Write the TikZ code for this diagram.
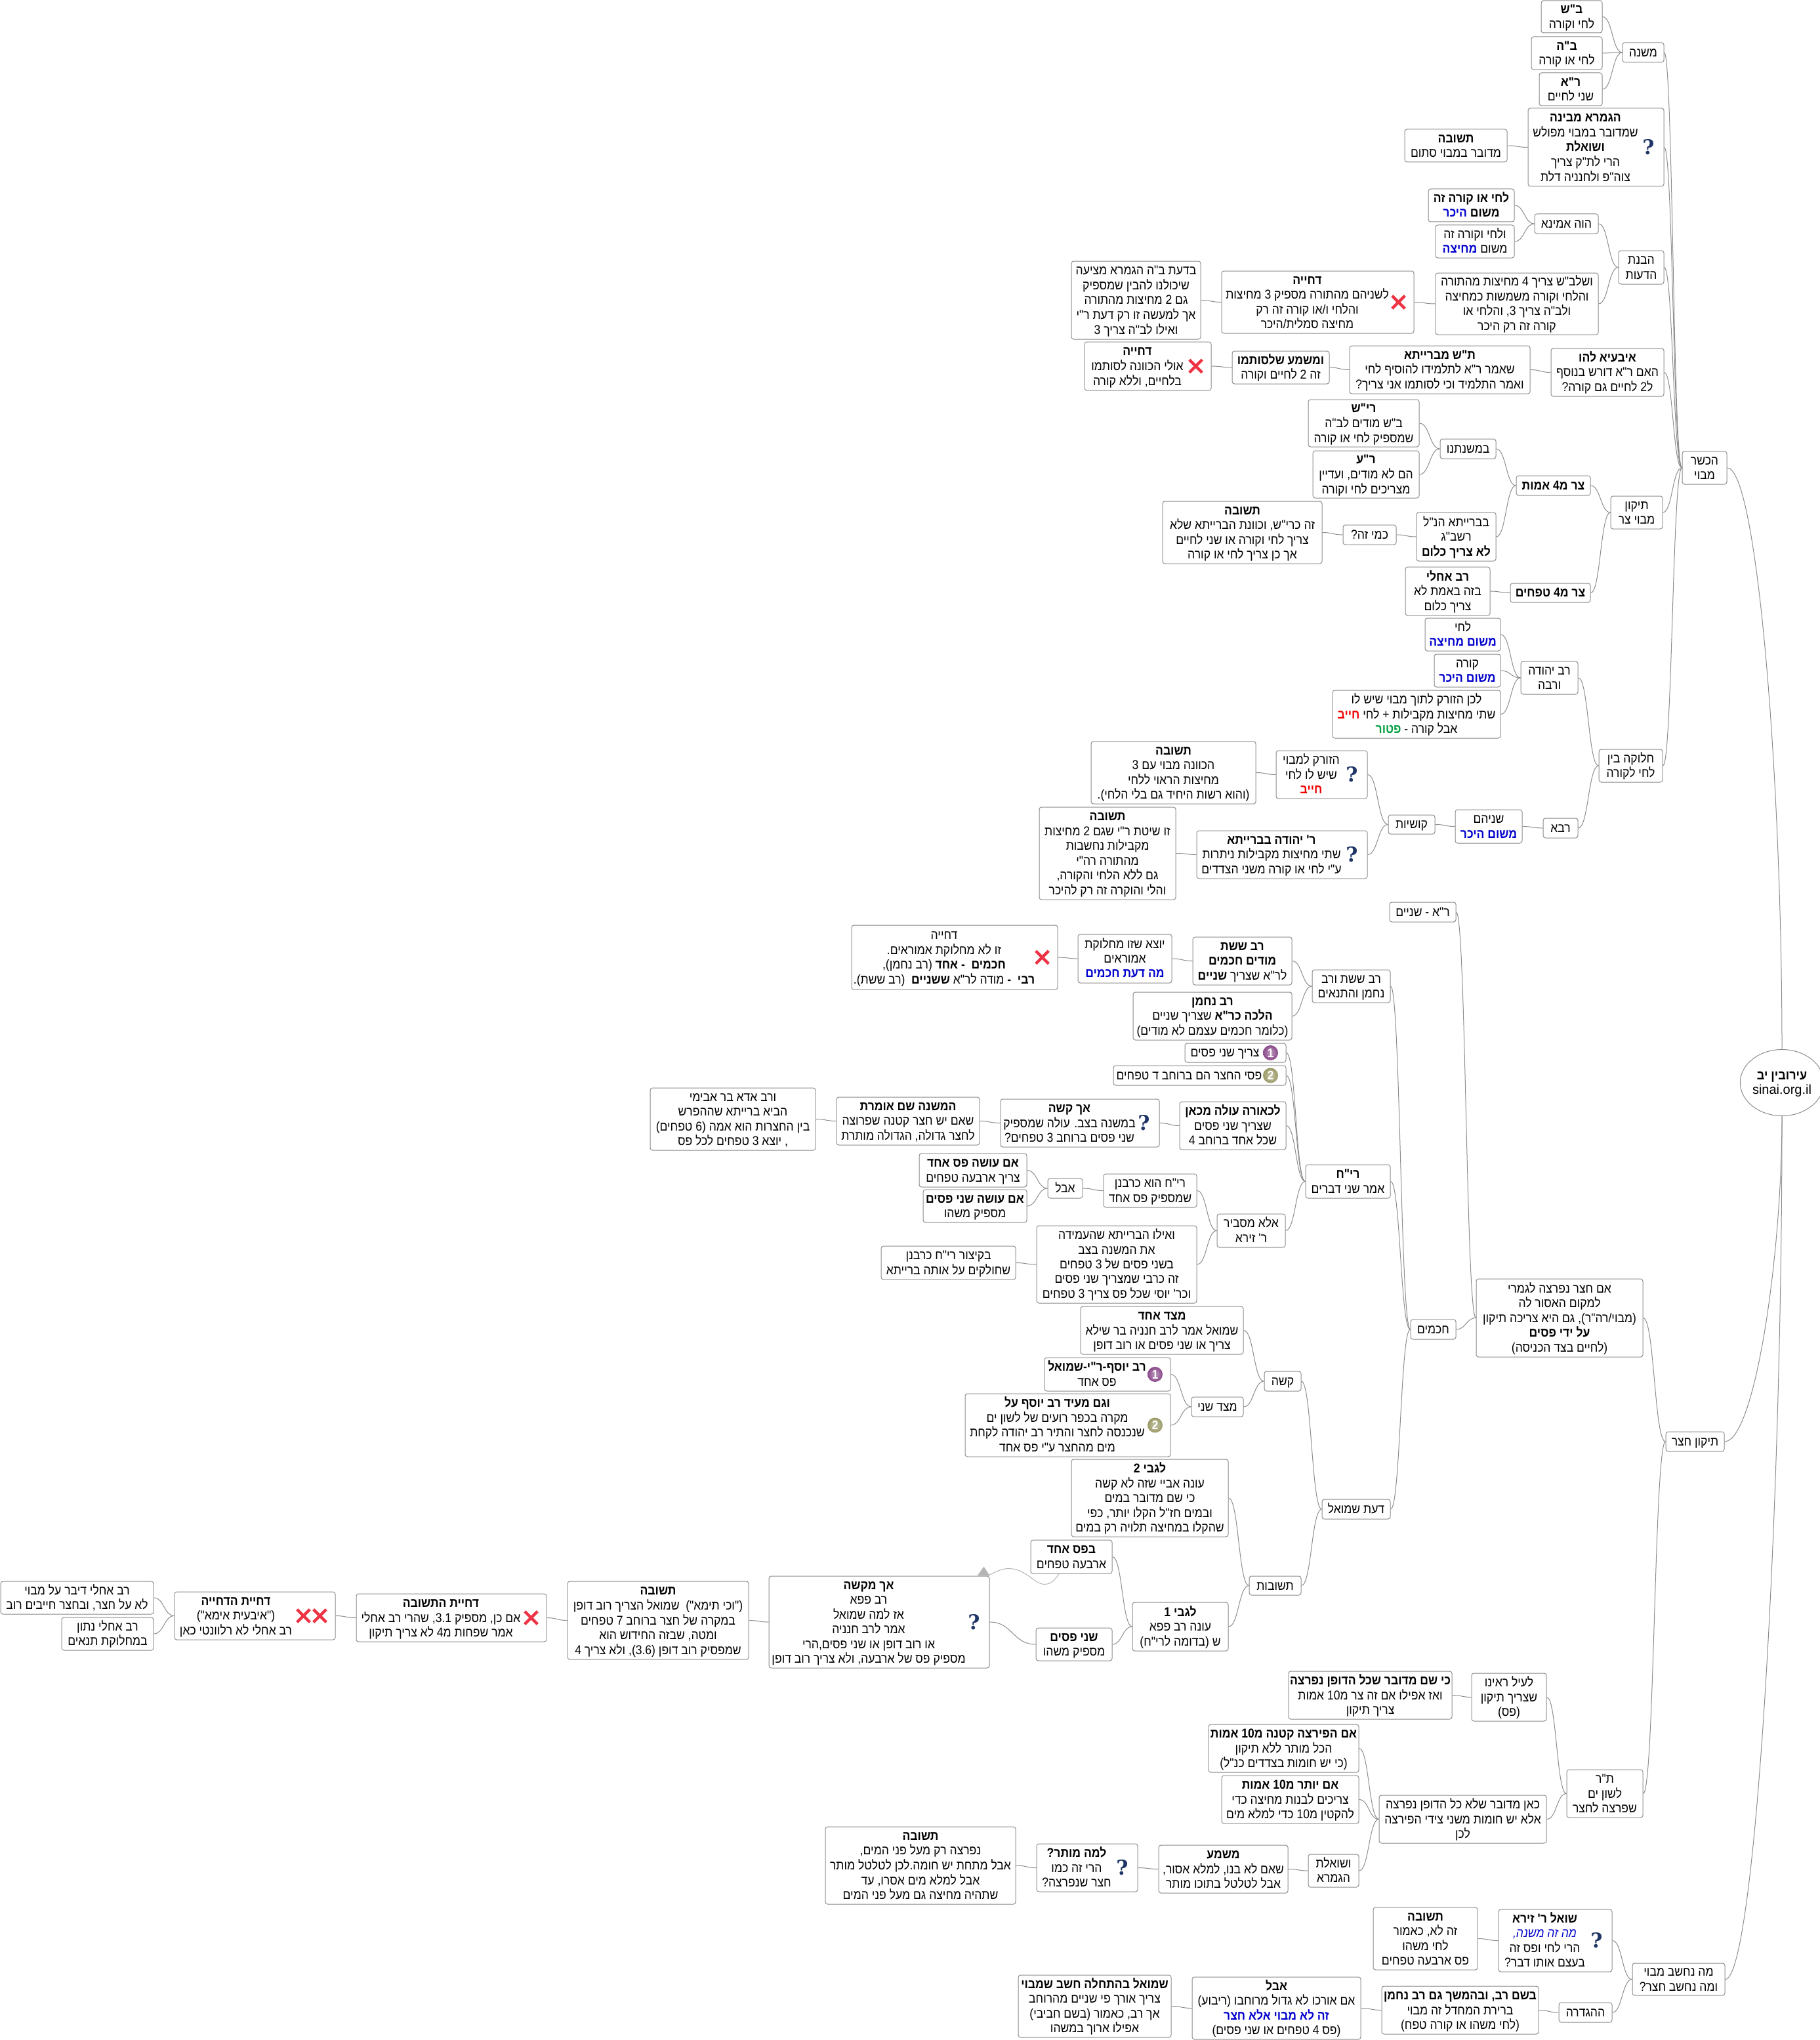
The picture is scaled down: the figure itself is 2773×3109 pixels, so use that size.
\documentclass[tikz,border=0pt]{standalone}
\usepackage{fontspec}
\usetikzlibrary{calc,shapes.misc,shapes.geometric}
\setmainfont{Liberation Sans}[Script=Hebrew,Ligatures=TeXOff,FakeStretch=0.9]
\newfontfamily\iconfont{DejaVu Serif}
\newfontfamily\rootfont{Liberation Sans}
\TeXXeTstate=1
\definecolor{edge}{HTML}{8C8C8C}
\definecolor{arrowlink}{HTML}{B4B4B4}
\definecolor{hblue}{HTML}{0000CC}
\definecolor{hred}{HTML}{F00000}
\definecolor{hgreen}{HTML}{00A040}
\definecolor{navy}{HTML}{1F3566}
\definecolor{crossred}{HTML}{EE3344}
\definecolor{numa}{HTML}{8A4A8A}
\definecolor{numb}{HTML}{9A9A66}
\tikzset{
  mapbox/.style={draw=edge, fill=white, rounded corners=3.5pt, line width=1pt, inner sep=0pt, font=\fontsize{19.5}{22.4}\selectfont},
  rootbox/.style={draw=edge, fill=white, ellipse, line width=1pt, inner sep=0pt, minimum width=114pt, minimum height=101pt, font=\fontsize{20}{22.4}\selectfont},
  conn/.style={draw=edge, line width=1pt},
  qicon/.style={inner sep=0pt, text=navy, font=\fontsize{31}{31}\selectfont\iconfont\bfseries},
  xicon/.style={cross out, draw=crossred, line width=4.5pt, minimum width=15pt, minimum height=15pt, inner sep=0pt},
  numicon/.style={circle, inner sep=0pt, minimum size=23pt, text=white, font=\fontsize{19}{19}\selectfont\bfseries},
}
\newcommand{\mnode}[7][0]{\node[mapbox, minimum width={#5-#3}, minimum height={#6-#4}] (#2) at ({(#3+#5)/2},{(#4+#6)/2}) {\raisebox{-2pt}[\height][\depth]{\begin{tabular}{@{}c@{}}#7\end{tabular}}\hspace*{#1pt}};}
\newcommand{\conn}[2]{\draw[conn] (#1.east) .. controls ($(#1.east)!.5!(#1.east -| #2.west)$) and ($(#2.west -| #1.east)!.5!(#2.west)$) .. (#2.west);}
\newcommand{\qmark}[1]{\node[qicon] (#1q) at ([xshift=-24pt]#1.east) {?};}
\newcommand{\redx}[2][-24]{\node[xicon] (#2x#1) at ([xshift=#1pt]#2.east) {};}
\newcommand{\numdot}[3]{\node[numicon, shade, outer color=#3, inner color=#3!55!white] (#1n) at ([xshift=-24pt]#1.east) {#2};}
\newcommand{\blu}[1]{\textcolor{hblue}{\beginR\textbf{#1}\endR}}
\newcommand{\rdd}[1]{\textcolor{hred}{\beginR\textbf{#1}\endR}}
\newcommand{\grn}[1]{\textcolor{hgreen}{\beginR\textbf{#1}\endR}}
\begin{document}
\begin{tikzpicture}[x=1pt,y=-1pt]
  \useasboundingbox (0,0) rectangle (2773,3109);
  \node[rootbox] (root) at (2716,1650) {\raisebox{-2pt}[\height][\depth]{\begin{tabular}{@{}c@{}}\beginR\textbf{עירובין יב}\endR\\{\rootfont sinai.org.il}\end{tabular}}};
  % הכשר מבוי
  \mnode{hechsher}{2564}{688}{2632}{738}{\beginR הכשר\endR\\\beginR מבוי\endR}
  \mnode{mishna}{2473}{65}{2536}{95}{\beginR משנה\endR}
  \mnode{msbs}{2349}{1}{2442}{50}{\beginR\textbf{ב"ש}\endR\\\beginR לחי וקורה\endR}
  \mnode{msbh}{2334}{56}{2442}{106}{\beginR\textbf{ב"ה}\endR\\\beginR לחי או קורה\endR}
  \mnode{msra}{2346}{111}{2442}{161}{\beginR\textbf{ר"א}\endR\\\beginR שני לחיים\endR}
  \mnode[32]{mevina}{2329}{165}{2536}{284}{\beginR\textbf{הגמרא מבינה}\endR\\\beginR שמדובר במבוי מפולש\endR\\\beginR\textbf{ושואלת}\endR\\\beginR הרי לת"ק צריך\endR\\\beginR צוה"פ ולחנניה דלת\endR}
  \qmark{mevina}
  \mnode{stum}{2141}{197}{2297}{247}{\beginR\textbf{תשובה}\endR\\\beginR מדובר במבוי סתום\endR}
  \mnode{havanat}{2467}{382}{2536}{433}{\beginR הבנת\endR\\\beginR הדעות\endR}
  \mnode{hava}{2339}{326}{2436}{356}{\beginR הוה אמינא\endR}
  \mnode{lechio}{2177}{288}{2308}{338}{\beginR\textbf{לחי או קורה זה}\endR\\\blu{היכר} \beginR\textbf{משום}\endR}
  \mnode{lechiv}{2188}{343}{2308}{393}{\beginR ולחי וקורה זה\endR\\\blu{מחיצה} \beginR משום\endR}
  \mnode{shelbs}{2188}{416}{2436}{510}{\beginR ושלב"ש צריך 4 מחיצות מהתורה\endR\\\beginR והלחי וקורה משמשות כמחיצה\endR\\\beginR ולב"ה צריך 3, והלחי או\endR\\\beginR קורה זה רק היכר\endR}
  \mnode[32]{dchiyaa}{1862}{413}{2155}{508}{\beginR\textbf{דחייה}\endR\\\beginR לשניהם מהתורה מספיק 3 מחיצות\endR\\\beginR והלחי ו/או קורה זה רק\endR\\\beginR מחיצה סמלית/היכר\endR}
  \redx{dchiyaa}
  \mnode{bedaat}{1633}{398}{1830}{517}{\beginR בדעת ב"ה הגמרא מציעה\endR\\\beginR שיכולנו להבין שמספיק\endR\\\beginR גם 2 מחיצות מהתורה\endR\\\beginR אך למעשה זו רק דעת ר"י\endR\\\beginR ואילו לב"ה צריך 3\endR}
  \mnode{ibaya}{2364}{531}{2536}{604}{\beginR\textbf{איבעיא להו}\endR\\\beginR האם ר"א דורש בנוסף\endR\\\beginR ל2 לחיים גם קורה?\endR}
  \mnode{tash}{2057}{527}{2332}{600}{\beginR\textbf{ת"ש מברייתא}\endR\\\beginR שאמר ר"א לתלמידו להוסיף לחי\endR\\\beginR ואמר התלמיד וכי לסותמו אני צריך?\endR}
  \mnode{umashma}{1878}{535}{2026}{585}{\beginR\textbf{ומשמע שלסותמו}\endR\\\beginR זה 2 לחיים וקורה\endR}
  \mnode[32]{dchiyab}{1653}{521}{1846}{595}{\beginR\textbf{דחייה}\endR\\\beginR אולי הכוונה לסותמו\endR\\\beginR בלחיים, וללא קורה\endR}
  \redx{dchiyab}
  \mnode{tikun}{2455}{756}{2534}{806}{\beginR תיקון\endR\\\beginR מבוי צר\endR}
  \mnode{tsaramot}{2311}{725}{2424}{755}{\beginR\textbf{צר מ4 אמות}\endR}
  \mnode{bemishna}{2195}{669}{2280}{699}{\beginR במשנתנו\endR}
  \mnode{rish}{1994}{609}{2163}{681}{\beginR\textbf{רי"ש}\endR\\\beginR ב"ש מודים לב"ה\endR\\\beginR שמספיק לחי או קורה\endR}
  \mnode{rava}{2001}{687}{2163}{759}{\beginR\textbf{ר"ע}\endR\\\beginR הם לא מודים, ועדיין\endR\\\beginR מצריכים לחי וקורה\endR}
  \mnode{bebraita}{2159}{781}{2280}{855}{\beginR בברייתא הנ"ל\endR\\\beginR רשב"ג\endR\\\beginR\textbf{לא צריך כלום}\endR}
  \mnode{kmi}{2047}{800}{2128}{830}{\beginR כמי זה?\endR}
  \mnode{krish}{1772}{764}{2015}{859}{\beginR\textbf{תשובה}\endR\\\beginR זה כרי"ש, וכוונת הברייתא שלא\endR\\\beginR צריך לחי וקורה או שני לחיים\endR\\\beginR אך כן צריך לחי או קורה\endR}
  \mnode{tsartfachim}{2302}{889}{2424}{918}{\beginR\textbf{צר מ4 טפחים}\endR}
  \mnode{achli}{2142}{864}{2271}{938}{\beginR\textbf{רב אחלי}\endR\\\beginR בזה באמת לא\endR\\\beginR צריך כלום\endR}
  \mnode{chaluka}{2437}{1142}{2534}{1192}{\beginR חלוקה בין\endR\\\beginR לחי לקורה\endR}
  \mnode{yehuda}{2318}{1008}{2405}{1058}{\beginR רב יהודה\endR\\\beginR ורבה\endR}
  \mnode{lechi}{2172}{942}{2287}{992}{\beginR לחי\endR\\\blu{משום מחיצה}}
  \mnode{kora}{2186}{997}{2287}{1047}{\beginR קורה\endR\\\blu{משום היכר}}
  \mnode{lachen}{2031}{1052}{2287}{1125}{\beginR לכן הזורק לתוך מבוי שיש לו\endR\\\rdd{חייב} \beginR שתי מחיצות מקבילות + לחי\endR\\\grn{פטור} \beginR אבל קורה -\endR}
  \mnode{rabba}{2352}{1247}{2405}{1277}{\beginR רבא\endR}
  \mnode{shneihem}{2218}{1234}{2320}{1285}{\beginR שניהם\endR\\\blu{משום היכר}}
  \mnode{kushiot}{2116}{1242}{2187}{1271}{\beginR קושיות\endR}
  \mnode[32]{zorek}{1945}{1144}{2084}{1217}{\beginR הזורק למבוי\endR\\\beginR שיש לו לחי\endR\\\rdd{חייב}}
  \qmark{zorek}
  \mnode{kavana}{1663}{1130}{1914}{1225}{\beginR\textbf{תשובה}\endR\\\beginR הכוונה מבוי עם 3\endR\\\beginR מחיצות הראוי ללחי\endR\\\beginR (והוא רשות היחיד גם בלי הלחי).\endR}
  \mnode[32]{ryehuda}{1824}{1266}{2084}{1339}{\beginR\textbf{ר' יהודה בברייתא}\endR\\\beginR שתי מחיצות מקבילות ניתרות\endR\\\beginR ע"י לחי או קורה משני הצדדים\endR}
  \qmark{ryehuda}
  \mnode{shita}{1584}{1230}{1792}{1371}{\beginR\textbf{תשובה}\endR\\\beginR זו שיטת ר"י שגם 2 מחיצות\endR\\\beginR מקבילות נחשבות\endR\\\beginR מהתורה רה"י\endR\\\beginR גם ללא הלחי והקורה,\endR\\\beginR והלי והוקרה זה רק להיכר\endR}
  % תיקון חצר
  \mnode{tikunch}{2539}{2182}{2628}{2212}{\beginR תיקון חצר\endR}
  \mnode{nifretza}{2250}{1949}{2504}{2068}{\beginR אם חצר נפרצה לגמרי\endR\\\beginR למקום האסור לה\endR\\\beginR (מבוי/רה"ר), גם היא צריכה תיקון\endR\\\beginR\textbf{על ידי פסים}\endR\\\beginR (לחיים בצד הכניסה)\endR}
  \mnode{rashnayim}{2118}{1375}{2219}{1405}{\beginR ר"א - שניים\endR}
  \mnode{chachamim}{2150}{2011}{2219}{2041}{\beginR חכמים\endR}
  \mnode{ssrn}{2000}{1478}{2119}{1528}{\beginR רב ששת ורב\endR\\\beginR נחמן והתנאים\endR}
  \mnode{sheshet}{1818}{1428}{1969}{1501}{\beginR\textbf{רב ששת}\endR\\\beginR\textbf{מודים חכמים}\endR\\\beginR לר"א שצריך \textbf{שניים}\endR}
  \mnode{yotze}{1643}{1424}{1786}{1498}{\beginR יוצא שזו מחלוקת\endR\\\beginR אמוראים\endR\\\blu{מה דעת חכמים}}
  \mnode[32]{dchiyac}{1298}{1410}{1612}{1508}{\beginR דחייה\endR\\\beginR זו לא מחלוקת אמוראים.\endR\\\beginR\textbf{חכמים~ - אחד} (רב נחמן),\endR\\\beginR\textbf{רבי~ -} מודה לר"א \textbf{ששניים}~ (רב ששת).\endR}
  \redx{dchiyac}
  \mnode{nachman}{1727}{1512}{1969}{1585}{\beginR\textbf{רב נחמן}\endR\\\beginR\textbf{הלכה כר"א} שצריך שניים\endR\\\beginR (כלומר חכמים עצמם לא מודים)\endR}
  \mnode{rich}{1990}{1775}{2119}{1826}{\beginR\textbf{רי"ח}\endR\\\beginR אמר שני דברים\endR}
  \mnode[32]{shnipasim}{1806}{1590}{1960}{1619}{\beginR צריך שני פסים\endR}
  \numdot{shnipasim}{1}{numa}
  \mnode[32]{pseichatzer}{1697}{1624}{1960}{1654}{\beginR פסי החצר הם ברוחב ד טפחים\endR}
  \numdot{pseichatzer}{2}{numb}
  \mnode{lechora}{1798}{1679}{1960}{1752}{\beginR\textbf{לכאורה עולה מכאן}\endR\\\beginR שצריך שני פסים\endR\\\beginR שכל אחד ברוחב 4\endR}
  \mnode[32]{achkashe}{1525}{1675}{1767}{1748}{\beginR\textbf{אך קשה}\endR\\\beginR במשנה בצב. עולה שמספיק\endR\\\beginR שני פסים ברוחב 3 טפחים?\endR}
  \qmark{achkashe}
  \mnode{omeret}{1275}{1672}{1493}{1745}{\beginR\textbf{המשנה שם אומרת}\endR\\\beginR שאם יש חצר קטנה שפרוצה\endR\\\beginR לחצר גדולה, הגדולה מותרת\endR}
  \mnode{ada}{991}{1658}{1243}{1753}{\beginR ורב אדא בר אבימי\endR\\\beginR הביא ברייתא שההפרש\endR\\\beginR בין החצרות הוא אמה (6 טפחים)\endR\\\beginR , יוצא 3 טפחים לכל פס\endR}
  \mnode{mesbir}{1855}{1850}{1959}{1901}{\beginR אלא מסביר\endR\\\beginR ר' זירא\endR}
  \mnode{kerabanan}{1682}{1789}{1824}{1840}{\beginR רי"ח הוא כרבנן\endR\\\beginR שמספיק פס אחד\endR}
  \mnode{abal}{1597}{1796}{1650}{1826}{\beginR אבל\endR}
  \mnode{pasechad}{1401}{1758}{1565}{1809}{\beginR\textbf{אם עושה פס אחד}\endR\\\beginR צריך ארבעה טפחים\endR}
  \mnode{passhnei}{1407}{1813}{1565}{1863}{\beginR\textbf{אם עושה שני פסים}\endR\\\beginR מספיק משהו\endR}
  \mnode{veilu}{1580}{1868}{1824}{1986}{\beginR ואילו הברייתא שהעמידה\endR\\\beginR את המשנה בצב\endR\\\beginR בשני פסים של 3 טפחים\endR\\\beginR זה כרבי שמצריך שני פסים\endR\\\beginR וכר' יוסי שכל פס צריך 3 טפחים\endR}
  \mnode{kitzur}{1343}{1899}{1548}{1950}{\beginR בקיצור רי"ח כרבנן\endR\\\beginR שחולקים על אותה ברייתא\endR}
  \mnode{daat}{2015}{2285}{2119}{2315}{\beginR דעת שמואל\endR}
  \mnode{kashe}{1927}{2090}{1983}{2120}{\beginR קשה\endR}
  \mnode{tzadechad}{1647}{1991}{1895}{2064}{\beginR\textbf{מצד אחד}\endR\\\beginR שמואל אמר לרב חנניה בר שילא\endR\\\beginR צריך או שני פסים או רוב דופן\endR}
  \mnode{tzadsheni}{1816}{2129}{1895}{2159}{\beginR מצד שני\endR}
  \mnode[32]{ryosef}{1592}{2069}{1784}{2120}{\beginR\textbf{רב יוסף-ר"י-שמואל}\endR\\\beginR פס אחד\endR}
  \numdot{ryosef}{1}{numa}
  \mnode[32]{meid}{1471}{2124}{1784}{2220}{\beginR\textbf{וגם מעיד רב יוסף על}\endR\\\beginR מקרה בכפר רועים של לשון ים\endR\\\beginR שנכנסה לחצר והתיר רב יהודה לקחת\endR\\\beginR מים מהחצר ע"י פס אחד\endR}
  \numdot{meid}{2}{numb}
  \mnode{tshuvot}{1904}{2402}{1983}{2431}{\beginR תשובות\endR}
  \mnode{gabeib}{1633}{2224}{1872}{2342}{\beginR\textbf{לגבי 2}\endR\\\beginR עונה אביי שזה לא קשה\endR\\\beginR כי שם מדובר במים\endR\\\beginR ובמים חז"ל הקלו יותר, כפי\endR\\\beginR שהקלו במחיצה תלויה רק במים\endR}
  \mnode{gabeia}{1726}{2442}{1872}{2516}{\beginR\textbf{לגבי 1}\endR\\\beginR עונה רב פפא\endR\\\beginR ש (בדומה לרי"ח)\endR}
  \mnode{befas}{1571}{2347}{1695}{2398}{\beginR\textbf{בפס אחד}\endR\\\beginR ארבעה טפחים\endR}
  \mnode{shneifas}{1579}{2481}{1695}{2531}{\beginR\textbf{שני פסים}\endR\\\beginR מספיק משהו\endR}
  \mnode[32]{makshe}{1172}{2402}{1508}{2542}{\beginR\textbf{אך מקשה}\endR\\\beginR רב פפא\endR\\\beginR אז למה שמואל\endR\\\beginR אמר לרב חנניה\endR\\\beginR או רוב דופן או שני פסים,הרי\endR\\\beginR מספיק פס של ארבעה, ולא צריך רוב דופן\endR}
  \qmark{makshe}
  \mnode{timma}{865}{2410}{1141}{2529}{\beginR\textbf{תשובה}\endR\\\beginR ("וכי תימא")~ שמואל הצריך רוב דופן\endR\\\beginR במקרה של חצר ברוחב 7 טפחים\endR\\\beginR ומטה, שבזה החידוש הוא\endR\\\beginR שמפסיק רוב דופן (3.6), ולא צריך 4\endR}
  \mnode[32]{dtshuva}{543}{2429}{833}{2502}{\beginR\textbf{דחיית התשובה}\endR\\\beginR אם כן, מספיק 3.1, שהרי רב אחלי\endR\\\beginR אמר שפחות מ4 לא צריך תיקון\endR}
  \redx{dtshuva}
  \mnode[58]{ddchiya}{266}{2426}{511}{2499}{\beginR\textbf{דחיית הדחייה}\endR\\\beginR ("איבעית אימא")\endR\\\beginR רב אחלי לא רלוונטי כאן\endR}
  \redx{ddchiya}
  \redx[-49]{ddchiya}
  \mnode{achlimavoi}{1}{2410}{234}{2460}{\beginR רב אחלי דיבר על מבוי\endR\\\beginR לא על חצר, ובחצר חייבים רוב\endR}
  \mnode{achlitanaim}{94}{2465}{234}{2515}{\beginR רב אחלי נתון\endR\\\beginR במחלוקת תנאים\endR}
  \mnode{tr}{2388}{2697}{2504}{2770}{\beginR ת"ר\endR\\\beginR לשון ים\endR\\\beginR שפרצה לחצר\endR}
  \mnode{leil}{2243}{2550}{2357}{2623}{\beginR לעיל ראינו\endR\\\beginR שצריך תיקון\endR\\\beginR (פס)\endR}
  \mnode{kisham}{1964}{2547}{2213}{2620}{\beginR\textbf{כי שם מדובר שכל הדופן נפרצה}\endR\\\beginR ואז אפילו אם זה צר מ10 אמות\endR\\\beginR צריך תיקון\endR}
  \mnode{kan}{2102}{2736}{2357}{2809}{\beginR כאן מדובר שלא כל הדופן נפרצה\endR\\\beginR אלא יש חומות משני צידי הפירצה\endR\\\beginR לכן\endR}
  \mnode{ketana}{1842}{2628}{2071}{2701}{\beginR\textbf{אם הפירצה קטנה מ10 אמות}\endR\\\beginR הכל מותר ללא תיקון\endR\\\beginR (כי יש חומות בצדדים כנ"ל)\endR}
  \mnode{yoter}{1862}{2706}{2071}{2779}{\beginR\textbf{אם יותר מ10 אמות}\endR\\\beginR צריכים לבנות מחיצה כדי\endR\\\beginR להקטין מ10 כדי למלא מים\endR}
  \mnode{shoelet}{1994}{2826}{2071}{2876}{\beginR ושואלת\endR\\\beginR הגמרא\endR}
  \mnode{mashma}{1766}{2812}{1963}{2885}{\beginR\textbf{משמע}\endR\\\beginR שאם לא בנו, למלא אסור,\endR\\\beginR אבל לטלטל בתוכו מותר\endR}
  \mnode[32]{lama}{1580}{2810}{1734}{2883}{\beginR\textbf{למה מותר?}\endR\\\beginR הרי זה כמו\endR\\\beginR חצר שנפרצה?\endR}
  \qmark{lama}
  \mnode{mayim}{1258}{2784}{1548}{2902}{\beginR\textbf{תשובה}\endR\\\beginR נפרצה רק מעל פני המים,\endR\\\beginR אבל מתחת יש חומה.לכן לטלטל מותר\endR\\\beginR אבל למלא מים אסרו, עד\endR\\\beginR שתהיה מחיצה גם מעל פני המים\endR}
  % מה נחשב מבוי
  \mnode{nechshav}{2488}{2992}{2629}{3041}{\beginR מה נחשב מבוי\endR\\\beginR ומה נחשב חצר?\endR}
  \mnode[32]{zera}{2284}{2910}{2457}{3005}{\beginR\textbf{שואל ר' זירא}\endR\\\textcolor{hblue}{\beginR\textit{מה זה משנה,}\endR}\\\beginR הרי לחי ופס זה\endR\\\beginR בעצם אותו דבר?\endR}
  \qmark{zera}
  \mnode{kaamur}{2093}{2907}{2252}{3002}{\beginR\textbf{תשובה}\endR\\\beginR זה לא, כאמור\endR\\\beginR לחי משהו\endR\\\beginR פס ארבעה טפחים\endR}
  \mnode{hagdara}{2376}{3052}{2457}{3082}{\beginR ההגדרה\endR}
  \mnode{beshem}{2106}{3027}{2345}{3100}{\beginR\textbf{בשם רב, ובהמשך גם רב נחמן}\endR\\\beginR ברירת המחדל זה מבוי\endR\\\beginR (לחי משהו או קורה טפח)\endR}
  \mnode{abalb}{1817}{3013}{2074}{3108}{\beginR\textbf{אבל}\endR\\\beginR אם אורכו לא גדול מרוחבו (ריבוע)\endR\\\blu{זה לא מבוי אלא חצר}\\\beginR (פס 4 טפחים או שני פסים)\endR}
  \mnode{hitchala}{1552}{3010}{1785}{3105}{\beginR\textbf{שמואל בהתחלה חשב שמבוי}\endR\\\beginR צריך אורך פי שניים מהרוחב\endR\\\beginR אך רב, כאמור (בשם חביבי)\endR\\\beginR אפילו ארוך במשהו\endR}
  % connectors
  \foreach \kid/\boss in {msbs/mishna, msbh/mishna, msra/mishna, mishna/hechsher, stum/mevina, mevina/hechsher,
    lechio/hava, lechiv/hava, hava/havanat, bedaat/dchiyaa, dchiyaa/shelbs, shelbs/havanat, havanat/hechsher,
    dchiyab/umashma, umashma/tash, tash/ibaya, ibaya/hechsher, rish/bemishna, rava/bemishna, bemishna/tsaramot,
    krish/kmi, kmi/bebraita, bebraita/tsaramot, tsaramot/tikun, achli/tsartfachim, tsartfachim/tikun, tikun/hechsher,
    lechi/yehuda, kora/yehuda, lachen/yehuda, yehuda/chaluka, kavana/zorek, zorek/kushiot, shita/ryehuda, ryehuda/kushiot,
    kushiot/shneihem, shneihem/rabba, rabba/chaluka, chaluka/hechsher,
    rashnayim/nifretza, chachamim/nifretza, nifretza/tikunch, ssrn/chachamim, rich/chachamim, daat/chachamim,
    dchiyac/yotze, yotze/sheshet, sheshet/ssrn, nachman/ssrn, shnipasim/rich, pseichatzer/rich, lechora/rich, mesbir/rich,
    ada/omeret, omeret/achkashe, achkashe/lechora, pasechad/abal, passhnei/abal, abal/kerabanan, kerabanan/mesbir,
    kitzur/veilu, veilu/mesbir, kashe/daat, tshuvot/daat, tzadechad/kashe, tzadsheni/kashe, ryosef/tzadsheni, meid/tzadsheni,
    gabeib/tshuvot, gabeia/tshuvot, befas/gabeia, shneifas/gabeia, makshe/shneifas, timma/makshe, dtshuva/timma, ddchiya/dtshuva,
    achlimavoi/ddchiya, achlitanaim/ddchiya, tr/tikunch, leil/tr, kisham/leil, kan/tr, ketana/kan, yoter/kan, shoelet/kan,
    mashma/shoelet, lama/mashma, mayim/lama, zera/nechshav, kaamur/zera, hagdara/nechshav, beshem/hagdara, abalb/beshem, hitchala/abalb}
    {\conn{\kid}{\boss}}
  \draw[conn] (hechsher.east) .. controls +(45,0) and ($(root.north)+(0,-420)$) .. (root.north);
  \draw[conn] (tikunch.east) .. controls +(45,0) and ($(root.south)+(0,220)$) .. (root.south);
  \draw[conn] (nechshav.east) .. controls +(45,0) and ($(root.south)+(0,620)$) .. (root.south);
  \draw[draw=arrowlink, line width=1pt] ([xshift=-19pt]befas.south) .. controls +(-7,11) and +(7,0) .. +(-21,16) .. controls +(-18,0) and +(28,0) .. +(-77,-8) .. controls +(-12,0) and +(10,-4) .. ([xshift=-4pt]makshe.north east);
  \fill[arrowlink] ([xshift=-19pt]makshe.north east) -- ([xshift=-9pt,yshift=14pt]makshe.north east) -- (makshe.north east) -- cycle;
\end{tikzpicture}
\end{document}
